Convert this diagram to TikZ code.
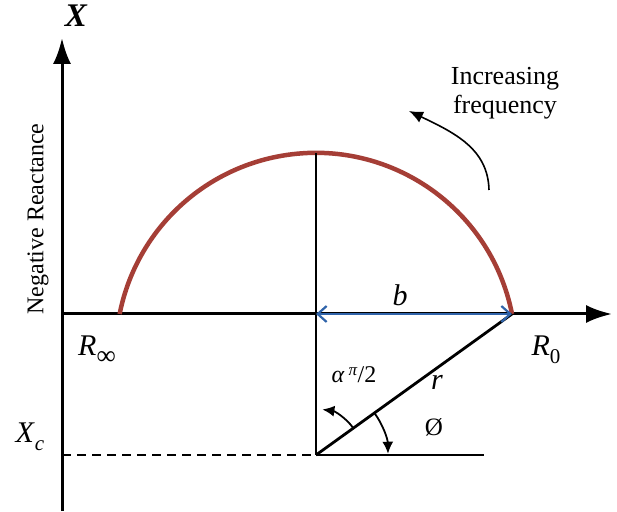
\documentclass[tikz,border=0pt]{standalone}
\usepackage{fontspec}
\setmainfont{Liberation Serif}
\usepackage{tikz}
\usetikzlibrary{arrows.meta,calc}
\definecolor{Brick}{HTML}{A53E36}
\definecolor{Steel}{HTML}{3064AA}
\newcommand{\sublab}[2]{\textit{#1}\raisebox{-0.28em}{\fontsize{21}{21}\selectfont #2}}
\tikzset{
  axisline/.style={-{Latex[length=26pt,width=18pt]}, line width=3pt, draw=black},
  plainline/.style={line width=2.8pt, draw=black},
  arcline/.style={line width=4.5pt, draw=Brick},
  spanarrow/.style={{Straight Barb[length=9pt,width=16pt,line width=2.2pt]}-{Straight Barb[length=9pt,width=16pt,line width=2.2pt]}, line width=2.8pt, draw=Steel},
  anglearrow/.style={-{Latex[length=12pt,width=11pt]}, line width=1.8pt, draw=black},
  freqarrow/.style={-{Latex[length=14pt,width=12pt]}, line width=1.6pt, draw=black},
  mathlabel/.style={font=\fontsize{30}{32}\selectfont, inner sep=0pt},
  textlabel/.style={font=\fontsize{26}{29}\selectfont, align=center, inner sep=0pt},
}
\begin{document}
\begin{tikzpicture}[x=1pt,y=1pt]
\path[use as bounding box] (0,0) rectangle (617,511);

% axes
\coordinate (yfoot) at (62,0);
\coordinate (ytip) at (62,473);
\coordinate (origin) at (62,197);
\coordinate (xtip) at (612,197);
\draw[axisline] (yfoot) -- (ytip);
\draw[axisline] (origin) -- (xtip);

% key points
\coordinate (centre) at (316,56);
\coordinate (mid) at (316,197);
\coordinate (top) at (316,358);
\coordinate (rzero) at (512,197);
\coordinate (xcaxis) at (62,56);
\coordinate (baseend) at (484,56);

% depressed semicircle
\draw[arcline] (rzero) arc[start angle=11.2, end angle=168.8, radius=200];

\draw[plainline] (top) -- (centre);
\draw[plainline] (centre) -- (rzero);
\draw[plainline] (centre) -- (baseend);
\draw[line width=1.2pt, dash pattern=on 9pt off 6pt] (xcaxis) -- (centre);
\draw[spanarrow] (mid) -- (rzero);

% angle arrows
\draw[anglearrow] ($(centre)+(36:46)$) arc[start angle=36, end angle=82, radius=46];
\draw[anglearrow] ($(centre)+(36:72)$) arc[start angle=36, end angle=1, radius=72];

% frequency arrow
\coordinate (freqfoot) at (489,321);
\coordinate (freqtip) at (409,400);
\draw[freqarrow] (freqfoot) .. controls (488,362) and (455,378) .. (freqtip);

% labels
\node[font=\fontsize{33}{35}\selectfont\bfseries\itshape, inner sep=0pt] (xlbl) at (76,495) {X};
\node[mathlabel] (rinf) at (97,161) {\sublab{R}{\fontsize{27}{27}\selectfont ∞}};
\node[mathlabel] (rzerolbl) at (546,161) {\sublab{R}{0}};
\node[mathlabel] (xclbl) at (30,74) {\sublab{X}{\itshape c}};
\node[mathlabel] (blbl) at (400,216) {\textit{b}};
\node[mathlabel] (rlbl) at (437,129) {\textit{r}};
\node[font=\fontsize{24}{26}\selectfont, inner sep=0pt] (alphalbl) at (354,136) {\textit{α}\,\raisebox{0.3em}{\fontsize{17}{17}\selectfont\textit{π}}/2};
\node[font=\fontsize{25}{27}\selectfont, inner sep=0pt] (philbl) at (434,84) {Ø};
\node[font=\fontsize{24}{26}\selectfont, rotate=90, inner sep=0pt] (ylbl) at (38,292) {Negative Reactance};
\node[textlabel] (freqlbl) at (505,418) {Increasing\\frequency};
\end{tikzpicture}
\end{document}
